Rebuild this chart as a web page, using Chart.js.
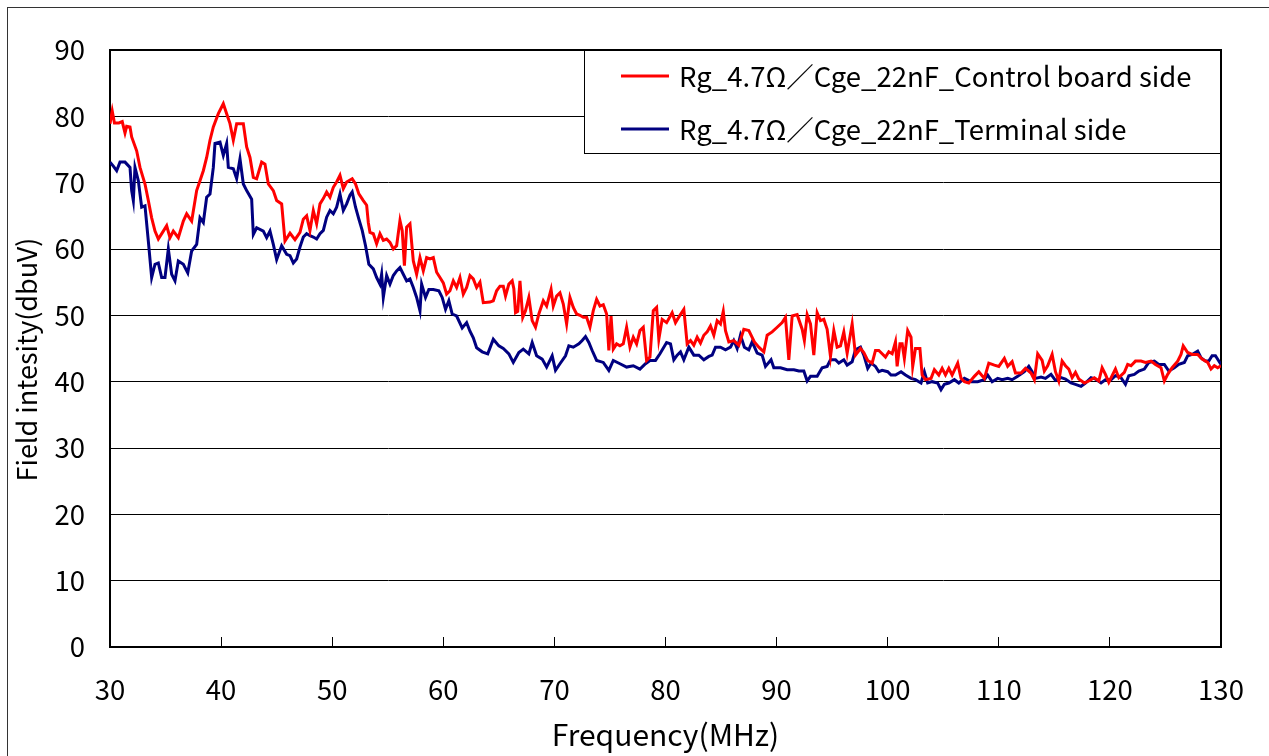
<!DOCTYPE html>
<html>
<head>
<meta charset="utf-8">
<script src="https://cdn.jsdelivr.net/npm/chart.js@4.4.1/dist/chart.umd.min.js"></script>
<style>
  html, body { margin: 0; padding: 0; background: #fff; overflow: hidden; }
  #wrap { position: relative; width: 1269px; height: 756px; }
  #frame { position: absolute; left: 7px; top: 7px; width: 1300px; height: 800px; border-left: 1.5px solid #333; border-top: 1.5px solid #333; pointer-events: none; }
  canvas { position: absolute; left: 0; top: 0; }
</style>
</head>
<body>
<div id="wrap">
  <canvas id="c" width="1269" height="756"></canvas>
  <div id="frame"></div>
</div>
<script>
// ---- data ----
const seriesNames = [
  'Rg_4.7Ω／Cge_22nF_Control board side',
  'Rg_4.7Ω／Cge_22nF_Terminal side'
];
const seriesColors = ['#ff0000', '#000080'];
const xTickValues = [30, 40, 50, 60, 70, 80, 90, 100, 110, 120, 130];
const yTickValues = [0, 10, 20, 30, 40, 50, 60, 70, 80, 90];
const xTitle = 'Frequency(MHz)';
const yTitle = 'Field intesity(dbuV)';

const controlFreq = [
30.0,30.2,30.4,30.8,31.1,31.35,31.5,31.8,31.95,32.4,32.7,33.15,33.45,33.75,34.05,34.35,34.8,35.1,35.4,35.7,
36.15,36.6,36.9,37.35,37.8,38.1,38.4,38.7,39.0,39.3,39.75,40.2,40.5,40.8,41.1,41.4,42.0,42.3,42.6,42.9,
43.2,43.65,43.95,44.25,44.7,45.0,45.45,45.75,46.2,46.65,47.1,47.4,47.7,48.0,48.3,48.6,48.9,49.2,49.5,49.8,
50.1,50.4,50.7,51.0,51.3,51.8,52.1,52.4,52.8,53.1,53.25,53.4,53.7,54.0,54.3,54.6,54.9,55.2,55.5,55.8,
56.1,56.3,56.5,56.7,57.0,57.3,57.6,57.9,58.2,58.5,58.8,59.1,59.4,59.7,60.0,60.3,60.6,60.9,61.2,61.5,
61.8,62.1,62.4,62.7,63.0,63.3,63.6,64.2,64.5,64.8,65.1,65.4,65.6,65.9,66.2,66.35,66.5,66.7,66.9,67.15,
67.4,67.7,68.0,68.3,68.6,69.0,69.3,69.7,69.9,70.2,70.5,70.8,71.1,71.4,71.7,72.0,72.3,72.6,72.9,73.2,
73.5,73.8,74.1,74.4,74.7,74.9,75.1,75.3,75.6,75.9,76.2,76.5,76.8,77.1,77.4,77.7,78.0,78.3,78.6,78.9,
79.2,79.4,79.7,80.1,80.6,80.9,81.3,81.65,81.95,82.25,82.55,82.85,83.15,83.45,83.75,84.05,84.35,84.65,84.95,85.2,
85.4,85.7,86.15,86.6,87.05,87.5,88.0,88.4,88.85,89.15,89.6,90.05,90.5,90.8,91.1,91.4,91.85,92.3,92.5,92.75,
93.05,93.35,93.65,93.95,94.25,94.55,94.85,95.15,95.45,95.75,96.05,96.35,96.8,97.1,97.55,97.85,98.2,98.6,98.9,99.2,
99.5,99.8,100.1,100.4,100.7,100.85,101.1,101.3,101.5,101.8,102.1,102.25,102.5,102.9,103.1,103.4,103.9,104.2,104.6,104.9,
105.2,105.5,105.8,106.3,106.6,106.9,107.3,107.8,108.2,108.7,109.1,109.6,110.0,110.5,110.8,111.2,111.5,112.0,112.4,112.9,
113.2,113.5,113.9,114.1,114.4,114.8,115.1,115.4,115.7,116.0,116.3,116.6,116.9,117.2,117.7,118.1,118.6,119.0,119.3,119.6,
119.9,120.2,120.5,120.8,121.3,121.6,121.9,122.3,122.8,123.2,123.7,124.1,124.6,124.9,125.2,125.6,126.1,126.4,126.6,127.0,
127.4,127.9,128.3,128.8,129.1,129.4,129.7,130.0
];
const controlLevel = [
78.9,80.8,79.0,79.0,79.2,77.5,78.5,78.4,76.9,74.8,72.3,69.8,67.3,64.7,62.7,61.5,62.7,63.5,61.7,62.7,
61.7,64.2,65.3,64.2,68.8,70.3,71.8,73.8,76.4,78.4,80.4,81.9,80.4,78.9,76.4,78.9,78.9,75.4,73.8,70.8,
70.6,73.1,72.8,69.8,68.8,67.3,66.8,61.2,62.4,61.4,62.5,64.5,65.0,62.8,65.8,63.8,66.8,67.6,68.6,67.8,
69.3,70.1,71.1,69.1,70.1,70.6,69.8,68.3,67.3,66.6,64.0,62.5,62.3,60.8,62.3,61.3,61.5,61.0,60.0,60.5,
64.3,62.8,57.5,63.3,63.8,58.2,56.2,58.7,56.7,58.7,58.5,58.7,56.5,55.7,54.9,53.2,53.7,55.2,54.2,55.7,
53.2,54.2,56.0,55.5,54.2,55.0,51.9,52.0,52.2,53.7,54.4,54.4,52.9,54.7,55.2,54.0,50.4,50.6,55.2,49.7,
50.7,52.7,49.2,48.2,50.2,52.2,51.4,53.9,51.4,52.9,53.4,51.7,48.7,52.7,51.2,50.2,50.0,49.7,49.7,48.2,
50.7,52.4,51.4,51.6,50.2,44.7,49.9,44.9,45.7,45.4,45.7,48.2,45.2,46.7,45.7,47.7,48.2,43.2,43.7,50.7,
51.2,46.4,49.4,48.9,50.4,48.9,50.0,50.9,45.7,46.2,45.5,46.7,45.8,47.0,47.5,48.4,47.0,49.2,48.7,50.6,
47.7,46.0,46.2,45.5,47.9,47.7,46.0,45.2,44.5,47.0,47.5,48.2,48.9,49.7,43.3,49.9,50.1,47.9,46.2,50.1,
48.7,44.0,50.4,49.2,49.4,47.9,43.8,47.7,45.2,45.4,47.5,44.3,48.7,44.0,45.0,44.4,43.2,42.8,44.7,44.7,
44.2,43.7,44.5,44.2,46.0,42.3,45.7,45.7,43.5,47.7,46.7,42.3,45.0,45.0,41.0,40.3,40.5,41.8,41.0,42.0,
41.0,42.0,41.0,42.8,40.5,40.0,39.8,40.8,41.5,40.5,42.8,42.5,42.3,43.5,42.3,43.0,41.3,41.3,42.0,41.3,
40.3,44.2,43.2,41.6,42.4,44.1,41.5,40.1,43.1,42.4,41.9,40.6,41.4,40.4,39.8,40.1,40.6,40.1,42.1,41.1,
39.9,40.9,41.9,40.6,41.4,42.6,42.4,43.1,43.1,42.9,43.1,42.6,42.1,40.1,41.1,42.1,43.1,44.1,45.4,44.4,
44.1,44.1,43.4,42.9,41.9,42.4,42.1,42.4
];

const terminalFreq = [
30.0,30.3,30.6,30.9,31.35,31.8,31.95,32.1,32.25,32.55,32.85,33.15,33.45,33.75,34.05,34.35,34.65,34.95,35.25,35.55,
35.85,36.15,36.6,37.0,37.35,37.8,38.1,38.4,38.7,39.0,39.3,39.45,39.9,40.2,40.5,40.65,41.1,41.4,41.7,42.0,
42.3,42.75,42.9,43.2,43.8,44.1,44.4,44.7,45.0,45.45,45.9,46.2,46.5,46.8,47.1,47.4,47.7,48.0,48.3,48.6,
48.9,49.2,49.5,49.8,50.1,50.4,50.7,51.0,51.3,51.6,51.8,52.1,52.4,52.7,53.0,53.3,53.7,54.0,54.3,54.45,
54.6,54.9,55.2,55.5,55.8,56.1,56.4,56.7,57.0,57.3,57.6,57.9,58.05,58.4,58.7,59.1,59.6,59.9,60.2,60.5,
60.8,61.2,61.7,62.1,62.4,62.7,63.0,63.5,64.0,64.5,65.0,65.4,65.9,66.3,66.8,67.2,67.7,68.0,68.4,68.9,
69.3,69.8,70.1,70.5,71.0,71.3,71.7,72.2,72.5,72.8,73.1,73.4,73.8,74.4,74.9,75.3,75.9,76.5,77.1,77.7,
78.2,78.6,79.1,79.5,80.1,80.45,80.75,81.05,81.35,81.65,82.1,82.55,83.0,83.45,83.9,84.2,84.5,84.95,85.4,85.85,
86.15,86.45,86.75,87.1,87.5,87.8,88.25,88.7,89.0,89.5,89.75,90.35,90.95,91.55,92.0,92.45,92.75,93.05,93.65,94.1,
94.55,94.85,95.3,95.6,96.05,96.35,96.8,97.1,97.55,97.85,98.2,98.5,98.9,99.2,99.5,100.0,100.3,100.7,101.2,101.6,
102.1,102.5,103.0,103.3,103.6,104.0,104.5,104.8,105.1,105.5,106.0,106.4,106.9,107.5,108.1,108.7,109.0,109.4,109.9,110.3,
110.8,111.2,111.7,112.3,112.7,113.0,113.3,113.8,114.2,114.7,115.1,115.6,116.0,116.5,116.9,117.4,117.8,118.3,118.7,119.2,
119.6,120.1,120.5,121.0,121.4,121.7,122.2,122.6,123.1,123.5,124.0,124.4,124.9,125.3,125.8,126.2,126.7,127.0,127.4,127.9,
128.2,128.6,128.9,129.2,129.5,130.0
];
const terminalLevel = [
73.1,72.5,71.8,73.1,73.1,72.3,68.8,67.3,72.3,70.3,66.3,66.5,61.2,55.7,57.7,57.9,55.7,55.7,60.0,56.2,
55.2,58.2,57.7,56.4,59.7,60.7,64.7,64.0,67.8,68.3,72.3,75.9,76.1,74.1,75.9,72.3,72.1,70.6,73.6,69.8,
68.8,67.5,62.2,63.2,62.7,61.7,62.7,60.7,58.4,60.5,59.2,59.0,57.9,58.5,60.3,61.8,62.3,62.0,61.8,61.5,
62.3,62.8,64.8,65.8,65.3,66.3,68.3,65.8,66.8,68.1,68.6,66.3,64.5,62.8,60.5,57.7,57.0,55.7,54.7,56.2,
52.7,56.0,54.7,56.0,56.7,57.2,56.2,55.2,55.5,54.2,52.7,50.7,54.7,52.7,53.9,53.9,53.7,52.7,50.9,52.2,
50.2,49.9,48.1,48.9,47.6,46.6,45.1,44.5,44.2,46.4,45.4,45.0,44.2,42.9,44.4,44.9,44.2,45.9,43.9,43.4,
42.2,43.9,41.7,42.7,43.9,45.4,45.2,45.7,46.2,46.8,45.9,44.7,43.2,42.9,41.7,43.2,42.7,42.2,42.4,41.9,
42.7,43.2,43.2,44.2,45.9,45.7,43.3,44.0,44.5,43.3,45.2,44.0,44.0,43.3,43.8,44.0,45.2,45.2,44.8,45.2,
46.2,45.0,47.0,45.2,44.8,46.0,44.3,44.0,42.3,43.3,42.1,42.1,41.8,41.8,41.6,41.6,40.1,40.8,40.8,42.1,
42.3,43.3,43.3,42.8,43.3,42.5,43.0,44.8,45.2,44.0,42.0,42.8,42.3,41.5,41.7,41.5,41.0,41.0,41.5,41.0,
40.5,40.3,39.8,41.5,39.8,40.0,39.8,38.8,39.6,39.8,40.3,39.8,40.5,40.0,40.0,40.3,41.0,40.0,40.5,40.3,
40.5,40.3,40.8,41.5,42.3,41.5,40.5,40.7,40.5,41.1,40.2,40.6,40.4,39.8,39.6,39.3,39.8,40.6,40.4,39.8,
40.3,40.3,40.9,40.6,39.6,40.9,41.1,41.6,41.9,42.9,43.1,42.6,42.6,41.6,42.1,42.6,42.9,43.9,44.1,44.6,
43.6,43.1,43.1,43.9,43.9,42.6
];

// ---- build ----
const FONT = '"Noto Sans CJK JP", "Noto Sans", sans-serif';
const toPoints = (xs, ys) => xs.map((x, i) => ({ x: x, y: ys[i] }));

const plotFrame = {
  id: 'plotFrame',
  beforeDatasetsDraw(chart) {
    const a = chart.chartArea, ctx = chart.ctx;
    ctx.save();
    ctx.strokeStyle = '#000';
    ctx.lineWidth = 2;
    ctx.strokeRect(a.left, a.top, a.right - a.left, a.bottom - a.top);
    ctx.restore();
  }
};

// y-axis title drawn centred slightly below plot middle, as in the reference
const yTitlePlugin = {
  id: 'yTitlePlugin',
  afterDraw(chart) {
    const a = chart.chartArea, ctx = chart.ctx;
    ctx.save();
    ctx.translate(27, (a.top + a.bottom) / 2 + 11);
    ctx.rotate(-Math.PI / 2);
    ctx.font = '27px ' + FONT;
    ctx.fillStyle = '#000';
    ctx.textAlign = 'center';
    ctx.textBaseline = 'middle';
    ctx.fillText(yTitle, 0, 0);
    ctx.restore();
  }
};

const boxLegend = {
  id: 'boxLegend',
  afterDraw(chart) {
    const a = chart.chartArea, ctx = chart.ctx;
    const w = 637, h = 104;
    const left = a.right - w, top = a.top;
    ctx.save();
    ctx.fillStyle = '#fff';
    ctx.fillRect(left, top, w, h);
    ctx.strokeStyle = '#000';
    ctx.lineWidth = 1;
    ctx.strokeRect(left + 0.5, top + 0.5, w - 1, h - 1);
    ctx.font = '27.5px ' + FONT;
    ctx.textBaseline = 'middle';
    ctx.textAlign = 'left';
    chart.data.datasets.forEach((ds, i) => {
      const y = top + 26 + i * 53;
      ctx.strokeStyle = ds.borderColor;
      ctx.lineWidth = 3;
      ctx.beginPath();
      ctx.moveTo(left + 37, y);
      ctx.lineTo(left + 85, y);
      ctx.stroke();
      ctx.fillStyle = '#000';
      ctx.fillText(ds.label, left + 95, y + 1);
    });
    ctx.restore();
  }
};

new Chart(document.getElementById('c'), {
  type: 'line',
  data: {
    datasets: [
      { label: seriesNames[0], data: toPoints(controlFreq, controlLevel), borderColor: seriesColors[0], borderWidth: 3, pointRadius: 0, tension: 0, fill: false },
      { label: seriesNames[1], data: toPoints(terminalFreq, terminalLevel), borderColor: seriesColors[1], borderWidth: 3, pointRadius: 0, tension: 0, fill: false }
    ]
  },
  options: {
    responsive: false,
    animation: false,
    devicePixelRatio: 1,
    layout: { padding: { left: 0, top: 50, right: 48, bottom: 0 } },
    plugins: { legend: { display: false }, tooltip: { enabled: false } },
    scales: {
      x: {
        type: 'linear',
        min: xTickValues[0],
        max: xTickValues[xTickValues.length - 1],
        afterBuildTicks: s => { s.ticks = xTickValues.map(v => ({ value: v })); },
        afterFit: s => { s.height = 109; s.paddingLeft = 24; s.paddingRight = 24; },
        grid: { drawOnChartArea: false, drawTicks: true, tickLength: -10, color: '#000', lineWidth: 1 },
        border: { display: true, color: '#000', width: 2 },
        ticks: { padding: 36, color: '#000', font: { family: FONT, size: 27.5 }, maxRotation: 0 },
        title: { display: true, text: xTitle, color: '#000', font: { family: FONT, size: 30 }, padding: { top: 0, bottom: 3 } }
      },
      y: {
        min: yTickValues[0],
        max: yTickValues[yTickValues.length - 1],
        afterBuildTicks: s => { s.ticks = yTickValues.map(v => ({ value: v })); },
        afterFit: s => { s.width = 110; },
        grid: { drawTicks: false, color: '#000', lineWidth: 1 },
        border: { display: true, color: '#000', width: 2 },
        ticks: { padding: 25, color: '#000', font: { family: FONT, size: 27.5 } },
        title: { display: false }
      }
    }
  },
  plugins: [plotFrame, boxLegend, yTitlePlugin]
});
</script>
</body>
</html>
